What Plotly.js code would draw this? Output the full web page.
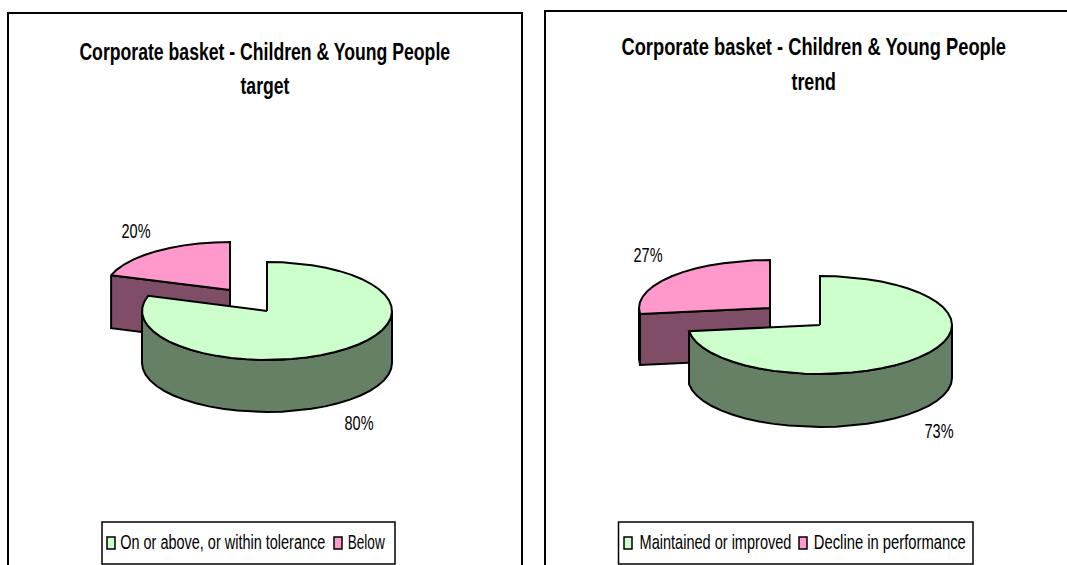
<!DOCTYPE html>
<html>
<head>
<meta charset="utf-8">
<script src="https://cdn.plot.ly/plotly-3.0.1.min.js"></script>
<style>html,body{margin:0;padding:0;background:#fff;overflow:hidden}#chart{width:1067px;height:565px}</style>
</head>
<body>
<div id="chart"></div>
<script>
// Two faux-3D exploded pies of the corporate basket results.
const titleLine = 'Corporate basket - Children & Young People';
const subtitles = ['target', 'trend'];
const targetCategories = ['On or above, or within tolerance', 'Below'];
const targetValues = [80, 20];
const trendCategories = ['Maintained or improved', 'Decline in performance'];
const trendValues = [73, 27];

const FONT = '"Liberation Sans", Arial, sans-serif';
const COL = {good: '#CCFFCC', goodSide: '#668066', bad: '#FF99CC', badSide: '#804D66'};
const STROKE = 2;

// Placement in page pixels; the axes below are mapped one to one onto the page.
// Every text entry carries [centre x, centre y, drawn width].
const panels = [
  {xa: 'x', ya: 'y', frame: [8, 522, 13], cats: targetCategories, vals: targetValues, sub: subtitles[0],
   title: [264.5, 52, 371], subtitle: [265, 86, 49],
   good: {cx: 267, cy: 311, rx: 125, ry: 49, d: 52}, bad: {cx: 230, cy: 290, rx: 125, ry: 48, d: 53},
   labels: [[359, 423, 29], [136, 231, 29]],
   legend: {x0: 102, x1: 395, y0: 522, y1: 564, swatch: [[107, 115], [334, 342]],
            text: [[223, 542, 205], [366.5, 542, 37]]}},
  {xa: 'x2', ya: 'y2', frame: [545, 1100, 11], cats: trendCategories, vals: trendValues, sub: subtitles[1],
   title: [813.5, 47, 385], subtitle: [814, 82, 44.5],
   good: {cx: 820, cy: 325, rx: 132, ry: 49, d: 53}, bad: {cx: 770, cy: 308, rx: 131, ry: 48, d: 51},
   labels: [[939, 431, 29], [648, 255, 29]],
   legend: {x0: 618.5, x1: 973, y0: 522, y1: 564, swatch: [[624, 632], [799, 807]],
            text: [[715, 542, 152], [889.5, 542, 152]]}}
];

const rad = d => d * Math.PI / 180;
const pt = (e, t, dz) => [e.cx + e.rx * Math.sin(rad(t)), e.cy - e.ry * Math.cos(rad(t)) + (dz || 0)];

// Points along the rim from angle a to b (clockwise from twelve o'clock).
function arc(e, a, b, dz) {
  const out = [];
  const n = Math.max(1, Math.round(Math.abs(b - a) / 7));
  for (let i = 0; i <= n; i++) out.push(pt(e, a + (b - a) * i / n, dz));
  return out;
}

function polygon(points, fill, p, name) {
  return {
    type: 'scatter', mode: 'lines', name, xaxis: p.xa, yaxis: p.ya, showlegend: false, hoverinfo: 'skip',
    x: points.map(q => q[0]), y: points.map(q => q[1]),
    fill: 'toself', fillcolor: fill, line: {color: '#000', width: STROKE, shape: 'linear'}
  };
}

// A sector seen from above: cut face, outer wall, then the lid.
function wedge(e, start, end, top, side, p, name) {
  const traces = [];
  // Cut face along the start radius, only visible for the sector that sits behind.
  if (start > 180) {
    const s = pt(e, start), c = [e.cx, e.cy];
    traces.push(polygon([s, c, [c[0], c[1] + e.d], [s[0], s[1] + e.d], s], side, p, name));
  }
  // Outer wall on the front half of the rim.
  const wa = Math.max(start, 90), wb = Math.min(end, 270);
  if (wb > wa) {
    const upper = arc(e, wa, wb);
    const lower = arc(e, wb, wa, e.d);
    traces.push(polygon(upper.concat(lower, [upper[0]]), side, p, name));
  }
  const lid = [[e.cx, e.cy]].concat(arc(e, start, end), [[e.cx, e.cy]]);
  traces.push(polygon(lid, top, p, name));
  return traces;
}

const data = [];
const annotations = [];
const textWidths = [];
const shapes = [];

panels.forEach(p => {
  const total = p.vals[0] + p.vals[1];
  const split = 360 * p.vals[0] / total;
  data.push(...wedge(p.bad, split, 360, COL.bad, COL.badSide, p, p.cats[1]));
  data.push(...wedge(p.good, 0, split, COL.good, COL.goodSide, p, p.cats[0]));

  const txt = (text, spot, size, weight) => {
    annotations.push({
      xref: p.xa, yref: p.ya, x: spot[0], y: spot[1], text, showarrow: false,
      xanchor: 'center', yanchor: 'middle',
      font: {family: FONT, size, color: '#000', weight: weight || 'normal'}
    });
    textWidths.push(spot[2]);
  };

  txt(titleLine.replace('&', '&amp;'), p.title, 23, 'bold');
  txt(p.sub, p.subtitle, 23, 'bold');
  p.vals.forEach((v, i) => txt(v + '%', p.labels[i], 20));

  // Legend box with its two entries.
  const L = p.legend;
  shapes.push({type: 'rect', xref: p.xa, yref: p.ya, x0: L.x0, x1: L.x1, y0: L.y0, y1: L.y1,
    line: {color: '#000', width: 1.5}, fillcolor: '#fff', layer: 'below'});
  [COL.good, COL.bad].forEach((c, i) => {
    shapes.push({type: 'rect', xref: p.xa, yref: p.ya, x0: L.swatch[i][0], x1: L.swatch[i][1], y0: 537, y1: 549,
      line: {color: '#000', width: 1.5}, fillcolor: c});
    txt(p.cats[i], L.text[i], 20);
  });

  // Panel frame: top and side rules only, the lower edge runs off the page.
  shapes.push({type: 'path', xref: p.xa, yref: p.ya,
    path: `M${p.frame[0]},600 L${p.frame[0]},${p.frame[2]} L${p.frame[1]},${p.frame[2]} L${p.frame[1]},600`,
    line: {color: '#000', width: 2}, layer: 'below'});
});

const hiddenAxis = (range, domain, anchor) => ({range, domain, anchor, visible: false, fixedrange: true});

const layout = {
  width: 1067, height: 565, margin: {l: 0, r: 0, t: 0, b: 0},
  paper_bgcolor: '#fff', plot_bgcolor: 'rgba(0,0,0,0)', showlegend: false,
  font: {family: FONT},
  xaxis: hiddenAxis([0, 533], [0, 533 / 1067], 'y'),
  yaxis: hiddenAxis([565, 0], [0, 1], 'x'),
  xaxis2: hiddenAxis([533, 1067], [533 / 1067, 1], 'y2'),
  yaxis2: hiddenAxis([565, 0], [0, 1], 'x2'),
  annotations, shapes
};

Plotly.newPlot('chart', data, layout, {staticPlot: true, displayModeBar: false}).then(gd => {
  // The labels are set in a condensed cut: scale each text about its centre to its drawn width.
  textWidths.forEach((w, i) => {
    const t = gd.querySelector(`.annotation[data-index="${i}"] text`);
    if (t) {
      const cx = parseFloat(t.getAttribute('x')) || 0;
      const s = w / t.getComputedTextLength();
      t.setAttribute('transform', `translate(${cx} 0) scale(${s} 1) translate(${-cx} 0)`);
    }
  });
});
</script>
</body>
</html>
